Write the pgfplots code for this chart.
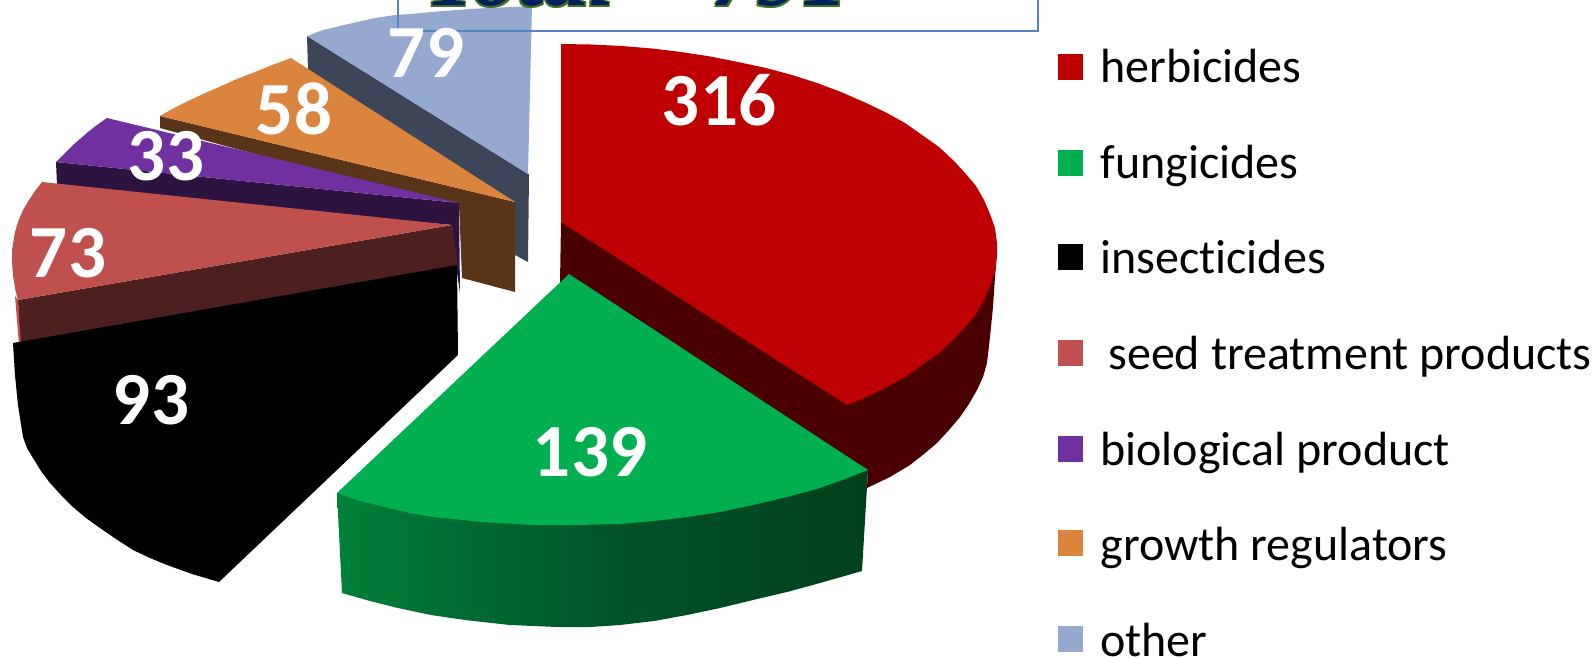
\documentclass[border=0pt]{standalone}
\usepackage{fontspec}
\setmainfont{Carlito}[Ligatures=CommonOff]
\newfontfamily\serifbi{Liberation Serif}
\usepackage{pgfplots}
\pgfplotsset{compat=1.18}
\definecolor{cred}{HTML}{BE0000}
\definecolor{cdred}{HTML}{4B0000}
\definecolor{cgreen}{HTML}{00AF50}
\definecolor{cgl}{HTML}{008038}
\definecolor{cgm}{HTML}{00552A}
\definecolor{cgd}{HTML}{00401C}
\definecolor{cpink}{HTML}{C0504D}
\definecolor{cdpink}{HTML}{4D1F1F}
\definecolor{cpur}{HTML}{7030A0}
\definecolor{cdpur}{HTML}{2D1340}
\definecolor{cor}{HTML}{DA843E}
\definecolor{cdor}{HTML}{5A3418}
\definecolor{cblue}{HTML}{95A9D0}
\definecolor{cdblue}{HTML}{3C4658}
\definecolor{cbox}{HTML}{5585C0}
\definecolor{ctnavy}{HTML}{002060}
\definecolor{ctgreen}{HTML}{3F7020}
\begin{document}
\begin{tikzpicture}
\clip (0,0) rectangle (796pt,329.5pt);
\begin{axis}[at={(0,0)},anchor=south west,scale only axis,width=796pt,height=329.5pt,
  xmin=0,xmax=1592,ymin=0,ymax=659,y dir=reverse,hide axis,clip=false]
% other
\addplot[fill=cdblue,draw=none] coordinates {(307,36)(528,174)(529,174)(528,262)(515,255)(515,202)(320,80)(308,70)} --cycle;
\addplot[fill=cblue,draw=none] coordinates {(307,36)(323,30)(340,26)(357,22)(375,18)(395,15)(411,14)(431,12)(450,10.5)(470,9)(490,8)(511,7)(532,6)(528,174)} --cycle;
% growth regulators
\addplot[fill=cdor,draw=none] coordinates {(160,116)(515,202)(515,292)(462,278)(459,204)(270,158)(240,150)(160,128)} --cycle;
\addplot[fill=cor,draw=none] coordinates {(291,58)(272,65)(255,72)(237,79)(219,87)(203,94)(188,101)(174,108)(160,116)(515,202)} --cycle;
% biological
\addplot[fill=cdpur,draw=none] coordinates {(56,162)(459,203)(460,293)(456,266)(452,225)(240,205)(57,186)} --cycle;
\addplot[fill=cpur,draw=none] coordinates {(107,118)(97,125)(88,132)(80,139)(72,146)(64,154)(56,162)(459,203)} --cycle;
% seed treatment
\addplot[fill=cdpink,draw=none] coordinates {(18,300)(452,225)(458,266)(20,346)} --cycle;
\addplot[fill=cpink,draw=none] coordinates {(15,296)(18,300)(21,344)(19,344)} --cycle;
\addplot[fill=cpink,draw=none] coordinates {(42,182)(35,191)(29,200)(23,210)(18,222)(15,232)(12,250)(12,262)(13,275)(15,288)(18,300)(452,225)} --cycle;
% insecticides
\addplot[fill=black,draw=none] coordinates {(457,265)(13,343)(15,375)(18,405)(23,437)(27,448)(33,458)(41,471)(50,483)(61,495)(73,507)(86,518)(100,528)(116,539)(133,550)(150,558)(167,565)(192,574)(219,582)(458,355)} --cycle;
% herbicides
\addplot[fill=cdred,draw=none] coordinates {(561,222)(997,243)(996,265)(995,277)(993,307)(990,337)(987,363)(983,377)(977,390)(969,404)(960,417)(949,430)(937,443)(924,454)(910,465)(890,477)(867,488)(868,470)(560,283)} --cycle;
\addplot[fill=cred,draw=none] coordinates {(561,44)(591,44.5)(622,46)(652,48.5)(681,52)(710,56.4)(738,62)(766,68)(792,75)(817,83)(841,92)(864,102)(885,112)(905,123)(922,135)(939,147)(953,160)(965,173)(976,186)(984,200)(990,214)(995,228)(997,243)(997,257)(995,272)(990,286)(984,300)(976,314)(965,327)(953,340)(939,353)(922,365)(905,377)(885,388)(864,398)(847,405)(561,222)} --cycle;
% fungicides
\addplot[left color=cgl,right color=cgd,middle color=cgm,draw=none] coordinates {(337,493)(342,593)(370,601)(398,608)(431,615)(465,620)(510,625)(557,627)(590,627)(620,625)(654,621)(687,615)(720,608)(753,600)(787,592)(820,583)(862,571)(868,470)} --cycle;
\addplot[fill=cgreen,draw=none] coordinates {(569,274)(337,493)(360,501)(385,507)(410,513)(433,517)(483,522)(533,525)(577,525)(620,524)(654,521)(687,517)(720,512)(753,505)(787,497)(820,488)(845,479)(868,470)} --cycle;
% legend swatches
\addplot[fill=cred,draw=none] coordinates {(1058,54)(1083,54)(1083,80)(1058,80)} --cycle;
\addplot[fill=cgreen,draw=none] coordinates {(1058,150)(1083,150)(1083,176)(1058,176)} --cycle;
\addplot[fill=black,draw=none] coordinates {(1058,244)(1083,244)(1083,270)(1058,270)} --cycle;
\addplot[fill=cpink,draw=none] coordinates {(1058,340)(1083,340)(1083,366)(1058,366)} --cycle;
\addplot[fill=cpur,draw=none] coordinates {(1058,436)(1083,436)(1083,462)(1058,462)} --cycle;
\addplot[fill=cor,draw=none] coordinates {(1058,530)(1083,530)(1083,556)(1058,556)} --cycle;
\addplot[fill=cblue,draw=none] coordinates {(1058,626)(1083,626)(1083,652)(1058,652)} --cycle;
% box
\addplot[draw=cbox,line width=0.8pt] coordinates {(398,-5)(398,31)(1038,31)(1038,-5)};
% title
\tikzset{ttl/.style={anchor=base west,inner sep=0pt,font=\serifbi\bfseries\itshape\fontsize{45.5}{45.5}\selectfont}}
\node[ttl,text=ctgreen] at (axis cs:423.5,4) {Total = 791};
\node[ttl,text=ctgreen] at (axis cs:426.5,4) {Total = 791};
\node[ttl,text=ctgreen] at (axis cs:423.5,7) {Total = 791};
\node[ttl,text=ctgreen] at (axis cs:426.5,7) {Total = 791};
\node[ttl,text=ctnavy] at (axis cs:425,5) {Total = 791};
% values
\tikzset{val/.style={anchor=center,text=white,font=\bfseries\fontsize{37.5}{37.5}\selectfont}}
\node[val] at (axis cs:719,100) {316};
\node[val] at (axis cs:590,452) {139};
\node[val] at (axis cs:151,400) {93};
\node[val] at (axis cs:68,253) {73};
\node[val] at (axis cs:166,156) {33};
\node[val] at (axis cs:294,109) {58};
\node[val] at (axis cs:426,53) {79};
% legend text
\tikzset{leg/.style={anchor=base west,inner sep=0pt,text=black,font=\fontsize{24}{24}\selectfont}}
\node[leg] at (axis cs:1100,82) {herbicides};
\node[leg] at (axis cs:1100,178) {fungicides};
\node[leg] at (axis cs:1100,273) {insecticides};
\node[leg] at (axis cs:1108,369) {seed treatment products};
\node[leg] at (axis cs:1100,465) {biological product};
\node[leg] at (axis cs:1100,560) {growth regulators};
\node[leg] at (axis cs:1100,656) {other};
\end{axis}
\end{tikzpicture}
\end{document}
